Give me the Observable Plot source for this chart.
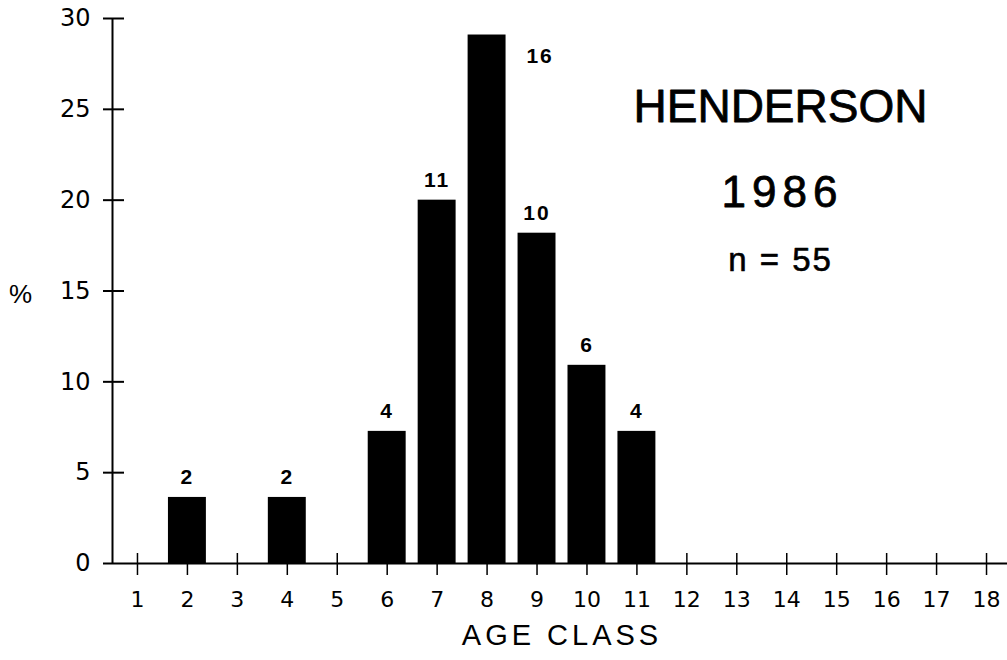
<!DOCTYPE html>
<html>
<head>
<meta charset="utf-8">
<script src="https://cdn.jsdelivr.net/npm/d3@7"></script>
<script src="https://cdn.jsdelivr.net/npm/@observablehq/plot@0.6"></script>
<style>
  html, body { margin: 0; padding: 0; background: #fff; }
  #chart svg { display: block; font-family: "Liberation Sans", Arial, sans-serif; }
</style>
</head>
<body>
<div id="chart"></div>
<script>
// Age classes with observed fish counts (n = 55)
const ageClasses = [2, 4, 6, 7, 8, 9, 10, 11];
const counts     = [2, 2, 4, 11, 16, 10, 6, 4];
const total = 55;
const xTicks = [1, 2, 3, 4, 5, 6, 7, 8, 9, 10, 11, 12, 13, 14, 15, 16, 17, 18];
const yTicks = [0, 5, 10, 15, 20, 25, 30];
const titleLines = ["HENDERSON", "1986", "n = 55"];
const xLabel = "AGE CLASS";
const yLabel = "%";

const data = ageClasses.map((a, i) => ({age: a, n: counts[i], pct: counts[i] / total * 100}));
const maxN = d3.max(counts);

const font = "Liberation Sans, Arial, sans-serif";
const tickFont = "DejaVu Sans, sans-serif";

const chart = Plot.plot({
  width: 1007,
  height: 660,
  marginLeft: 124,
  marginRight: 0,
  marginTop: 18,
  marginBottom: 97,
  style: {fontFamily: font, color: "#000", background: "#fff", overflow: "visible"},
  x: {type: "linear", domain: [0.5, 18.5], range: [112, 1011]},
  y: {domain: [0, 30]},
  marks: [
    // baseline
    Plot.ruleY([0], {stroke: "#000", strokeWidth: 2}),
    // y axis line
    Plot.ruleX([0.5], {stroke: "#000", strokeWidth: 2}),
    // y ticks crossing axis + labels
    Plot.axisY({ticks: yTicks, tickSize: 21, tickPadding: 13, strokeWidth: 2, fontSize: 24, fontFamily: tickFont, label: null, tickFormat: d => String(d), className: "ytick"}),
    // x ticks (crossing baseline)
    Plot.ruleX(xTicks, {x: d => d, y1: 0, y2: 0, insetTop: -10, insetBottom: -12, stroke: "#000", strokeWidth: 1.5}),
    // x tick labels
    Plot.axisX({ticks: xTicks, tickSize: 0, tickPadding: 28, fontSize: 22, fontFamily: tickFont, label: null, tickFormat: d => String(d), className: "xtick"}),
    // bars
    Plot.rectY(data, {x1: d => d.age - 0.5, x2: d => d.age + 0.5, y: "pct", insetLeft: 6, insetRight: 6, fill: "#000"}),
    // count labels above bars
    Plot.text(data.filter(d => d.n !== maxN), {x: "age", y: "pct", text: d => String(d.n), dy: -20, fontSize: 21, fontWeight: "bold", fill: "#000", className: "cnt"}),
    // count label for tallest bar, set beside it
    Plot.text(data.filter(d => d.n === maxN), {x: "age", y: "pct", text: d => String(d.n), dx: 53, dy: 21, fontSize: 21, fontWeight: "bold", fill: "#000", className: "cnt"}),
    // axis titles
    Plot.text([xLabel], {frameAnchor: "bottom", lineAnchor: "middle", dx: -4, dy: 72, fontSize: 29, fill: "#000", className: "xlab"}),
    Plot.text([yLabel], {frameAnchor: "left", textAnchor: "middle", dx: -104, dy: 4, fontSize: 26, fill: "#000"}),
    // annotation block
    Plot.text([titleLines[0]], {frameAnchor: "top-right", textAnchor: "middle", lineAnchor: "middle", dx: -227, dy: 89, fontSize: 46, fill: "#000", stroke: "#000", strokeWidth: 0.8}),
    Plot.text([titleLines[1]], {frameAnchor: "top-right", textAnchor: "middle", lineAnchor: "middle", dx: -225, dy: 174, fontSize: 44, fill: "#000", stroke: "#000", strokeWidth: 0.8, className: "yr"}),
    Plot.text([titleLines[2]], {frameAnchor: "top-right", textAnchor: "middle", lineAnchor: "middle", dx: -227, dy: 242, fontSize: 33, fill: "#000", stroke: "#000", strokeWidth: 0.6, className: "nn"})
  ]
});

document.getElementById("chart").appendChild(chart);
d3.select(chart).selectAll(".yr text").style("letter-spacing", "6px");
d3.select(chart).selectAll(".nn text").style("letter-spacing", "2px");
d3.select(chart).selectAll(".xlab text").style("letter-spacing", "4px");
d3.select(chart).selectAll(".cnt text").style("letter-spacing", "2px");
</script>
</body>
</html>
